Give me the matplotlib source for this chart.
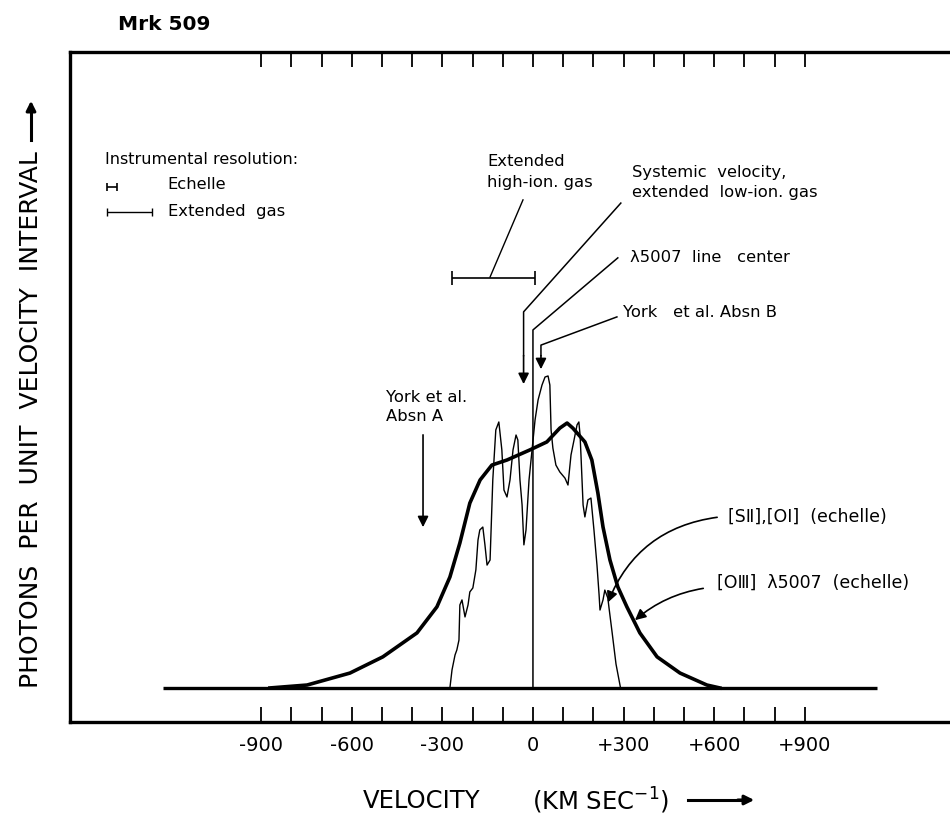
import numpy as np
import matplotlib.pyplot as plt

# [OIII] 5007 profile (thick curve): velocity in km/s, relative intensity
oiii_vel = [-871, -748, -606, -497, -384, -318, -275, -242, -209, -175, -136, -86,
            -10, 46, 89, 113, 132, 172, 195, 215, 232, 255, 281, 311, 354, 411,
            487, 576, 619]
oiii_int = [0.0, 0.011, 0.056, 0.117, 0.207, 0.305, 0.417, 0.545, 0.695, 0.782,
            0.838, 0.857, 0.895, 0.925, 0.977, 0.996, 0.977, 0.925, 0.857, 0.733,
            0.605, 0.481, 0.380, 0.305, 0.207, 0.117, 0.056, 0.011, 0.0]

# [SII],[OI] echelle profile (thin curve)
echelle_vel = [-275, -268, -258, -252, -245, -242, -235, -225, -215, -209, -199,
               -189, -182, -176, -166, -159, -152, -142, -133, -123, -113, -103,
               -96, -86, -76, -66, -56, -50, -43, -36, -30, -23, -13, -3, 7, 17,
               30, 40, 50, 56, 60, 66, 76, 89, 106, 116, 126, 136, 146, 152, 156,
               159, 166, 172, 182, 192, 202, 212, 219, 222, 232, 238, 248, 252,
               262, 275, 290]
echelle_int = [0.0, 0.068, 0.124, 0.143, 0.180, 0.312, 0.331, 0.267, 0.312, 0.361,
               0.376, 0.444, 0.556, 0.594, 0.605, 0.538, 0.462, 0.481, 0.782,
               0.970, 1.000, 0.895, 0.744, 0.718, 0.782, 0.895, 0.951, 0.932,
               0.782, 0.688, 0.538, 0.594, 0.782, 0.895, 1.008, 1.083, 1.139,
               1.169, 1.173, 1.139, 0.970, 0.902, 0.838, 0.812, 0.789, 0.763,
               0.876, 0.932, 0.989, 1.000, 0.951, 0.876, 0.688, 0.643, 0.707,
               0.714, 0.594, 0.462, 0.350, 0.293, 0.331, 0.368, 0.338, 0.300,
               0.210, 0.090, 0.0]

baseline_vel = [-1225, 1139]
tick_vel = list(range(-900, 1000, 100))
tick_text = {-900: '-900', -600: '-600', -300: '-300', 0: '0',
             300: '+300', 600: '+600', 900: '+900'}

fig = plt.figure(figsize=(9.5, 8.16), dpi=100)
ax = fig.add_axes([70/950, 94/816, 880/950, 670/816])
ax.set_xlim(-1533, 1381)
ax.set_ylim(-0.128, 2.391)

for s in ['left', 'top', 'bottom']:
    ax.spines[s].set_linewidth(2.4)
ax.spines['right'].set_visible(False)

ax.set_xticks(tick_vel)
ax.set_xticklabels([tick_text.get(v, '') for v in tick_vel], fontsize=14)
ax.tick_params(axis='x', which='both', direction='in', length=11, width=1.3,
               top=True, bottom=True, pad=10)
ax.set_yticks([])

# baseline and profiles
ax.plot(baseline_vel, [0, 0], color='k', lw=2.4, solid_capstyle='butt')
ax.plot(oiii_vel, oiii_int, color='k', lw=2.6, solid_joinstyle='round')
ax.plot(echelle_vel, echelle_int, color='k', lw=1.0)

fs = 11.8
arrow = dict(arrowstyle='-|>', color='k', lw=1.2, mutation_scale=16)

# instrumental resolution key
ax.text(-1417, 1.985, 'Instrumental resolution:', fontsize=11.5, va='center')
ax.errorbar([(-1411 - 1377) / 2], [1.883], xerr=[17], color='k', lw=1.2,
            capsize=3, capthick=1.2)
ax.text(-1209, 1.891, 'Echelle', fontsize=fs, va='center')
ax.errorbar([(-1411 - 1262) / 2], [1.789], xerr=[74.5], color='k', lw=1.0,
            capsize=3, capthick=1.0)
ax.text(-1209, 1.793, 'Extended  gas', fontsize=fs, va='center')

# extended high-ion gas bar
ax.errorbar([(-268 + 7) / 2], [1.541], xerr=[137.5], color='k', lw=1.2,
            capsize=5, capthick=1.2)
ax.plot([-142, -33], [1.545, 1.835], color='k', lw=1.0)
ax.text(-152, 1.94, 'Extended\nhigh-ion. gas', fontsize=fs, va='center',
        linespacing=1.5)

# systemic velocity
ax.plot([291, -31, -31], [1.823, 1.414, 1.25], color='k', lw=1.1)
ax.annotate('', xy=(-31, 1.132), xytext=(-31, 1.26), arrowprops=arrow)
ax.text(328, 1.90, 'Systemic  velocity,\nextended  low-ion. gas', fontsize=fs,
        va='center', linespacing=1.4)

# line center of 5007
ax.plot([0, 0, 281], [0, 1.346, 1.617], color='k', lw=1.1)
ax.text(321, 1.620, 'λ5007  line   center', fontsize=fs, va='center')

# York et al. absorptions
ax.plot([278, 26.5, 26.5], [1.395, 1.289, 1.25], color='k', lw=1.1)
ax.annotate('', xy=(26.5, 1.188), xytext=(26.5, 1.26), arrowprops=arrow)
ax.text(298, 1.410, 'York   et al. Absn B', fontsize=fs, va='center')

ax.annotate('', xy=(-364, 0.594), xytext=(-364, 0.962), arrowprops=arrow)
ax.text(-487, 1.057, 'York et al.\nAbsn A', fontsize=fs, va='center',
        linespacing=1.3)

# line identifications
ax.annotate('', xy=(245, 0.312), xytext=(619, 0.643),
            arrowprops=dict(arrowstyle='-|>', color='k', lw=1.2,
                            mutation_scale=16, connectionstyle='arc3,rad=0.3'))
ax.text(646, 0.643, '[SⅡ],[OⅠ]  (echelle)', fontsize=12.5, va='center')
ax.annotate('', xy=(331, 0.248), xytext=(573, 0.376),
            arrowprops=dict(arrowstyle='-|>', color='k', lw=1.2,
                            mutation_scale=16, connectionstyle='arc3,rad=0.15'))
ax.text(609, 0.395, '[OⅢ]  λ5007  (echelle)', fontsize=12.5, va='center')

# titles and axis labels
fig.text(118/950, 1 - 25/816, 'Mrk 509', fontsize=14.5, fontweight='bold',
         va='center', ha='left')
fig.text(31/950, 1 - 420/816, 'PHOTONS  PER  UNIT  VELOCITY  INTERVAL',
         fontsize=18, rotation=90, va='center', ha='center')
fig.add_artist(plt.Line2D([31/950, 31/950], [1 - 140/816, 1 - 108/816],
                          color='k', lw=2.2))
ax.annotate('', xy=(31/950, 1 - 98/816), xytext=(31/950, 1 - 112/816),
            xycoords='figure fraction', textcoords='figure fraction',
            arrowprops=dict(arrowstyle='-|>', color='k', lw=2.2,
                            mutation_scale=14))
fig.text(363/950, 1 - 801/816, 'VELOCITY', fontsize=17.5,
         va='center', ha='left')
fig.text(532/950, 1 - 801/816, '(KM SEC$^{-1}$)', fontsize=17.5,
         va='center', ha='left')
fig.add_artist(plt.Line2D([688/950, 745/950], [1 - 800/816, 1 - 800/816],
                          color='k', lw=2.2))
ax.annotate('', xy=(757/950, 1 - 800/816), xytext=(735/950, 1 - 800/816),
            xycoords='figure fraction', textcoords='figure fraction',
            arrowprops=dict(arrowstyle='-|>', color='k', lw=2.2,
                            mutation_scale=14))

fig.savefig('out.png', dpi=100)
